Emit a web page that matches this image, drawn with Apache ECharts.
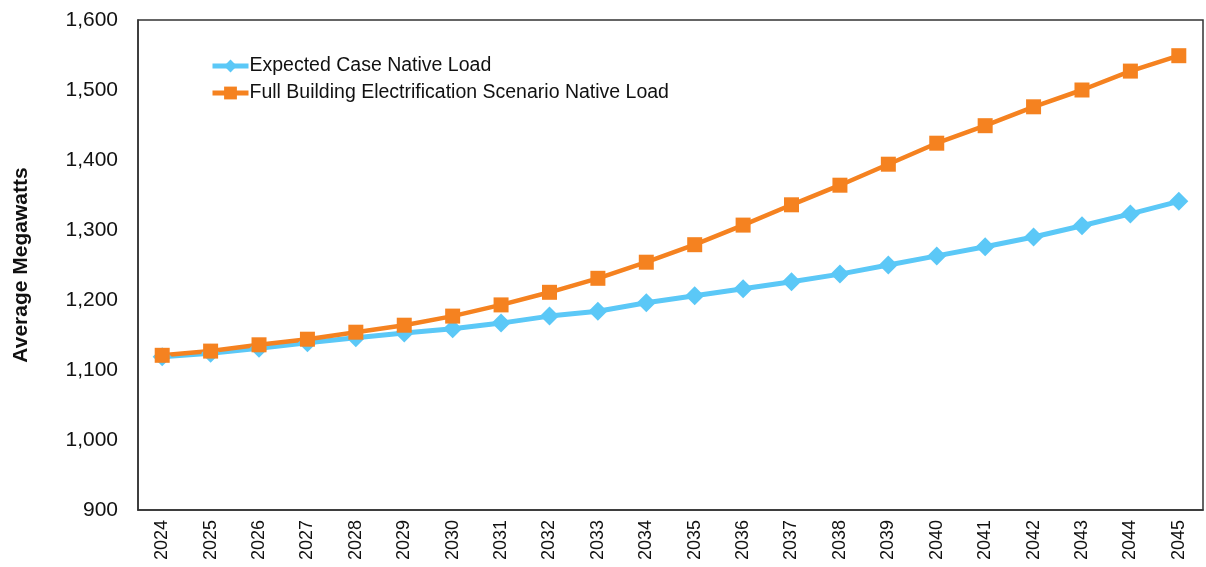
<!DOCTYPE html>
<html><head><meta charset="utf-8">
<script src="https://cdn.jsdelivr.net/npm/echarts@6/dist/echarts.min.js"></script>
<style>html,body{margin:0;padding:0;background:#fff}#c{width:1206px;height:567px}</style>
</head><body><div id="c"></div>
<script>
const years = ['2024','2025','2026','2027','2028','2029','2030','2031','2032','2033','2034','2035','2036','2037','2038','2039','2040','2041','2042','2043','2044','2045'];
const expectedCase = [1119,1124,1131,1139,1146,1153,1159,1167,1177,1184,1196,1206,1216,1226,1237,1250,1263,1276,1290,1306,1323,1341];
const fullElectrification = [1121,1127,1136,1144,1154,1164,1177,1193,1211,1231,1254,1279,1307,1336,1364,1394,1424,1449,1476,1500,1527,1549];
const seriesNames = ['Expected Case Native Load','Full Building Electrification Scenario Native Load'];

const chart = echarts.init(document.getElementById('c'));
const font = 'Liberation Sans, Arial, sans-serif';
chart.setOption({
  animation: false,
  textStyle: {fontFamily: font},
  grid: {left: 138, right: 3, top: 20, bottom: 57, show: true, borderColor: '#333', borderWidth: 1.5},
  legend: {
    left: 205, top: 51, orient: 'vertical', itemGap: 7, itemWidth: 36, itemHeight: 16,
    lineStyle: {width: 5},
    textStyle: {fontSize: 19.5, color: '#111', fontFamily: font, padding: [0,0,0,-4]},
    data: [seriesNames[0], seriesNames[1]]
  },
  xAxis: {
    type: 'category', data: years, boundaryGap: true,
    axisLine: {show: true, lineStyle: {color: '#333', width: 1.5}},
    axisTick: {show: false},
    axisLabel: {rotate: 90, fontSize: 18, color: '#111', margin: 10, fontFamily: font}
  },
  yAxis: {
    type: 'value', min: 900, max: 1600, interval: 100,
    name: 'Average Megawatts', nameLocation: 'middle', nameGap: 106,
    nameTextStyle: {fontSize: 21, fontWeight: 'bold', color: '#111', fontFamily: font},
    axisLine: {show: true, lineStyle: {color: '#333', width: 1.5}},
    axisTick: {show: false},
    splitLine: {show: false},
    axisLabel: {fontSize: 21, color: '#111', margin: 20, fontFamily: font,
      formatter: v => v.toLocaleString('en-US')}
  },
  series: [
    {name: seriesNames[0], type: 'line', data: expectedCase, symbol: 'diamond', symbolSize: 19,
     color: '#5BC8F7', lineStyle: {width: 5, color: '#5BC8F7'}, itemStyle: {color: '#5BC8F7'}},
    {name: seriesNames[1], type: 'line', data: fullElectrification, symbol: 'rect', symbolSize: 15,
     color: '#F58220', lineStyle: {width: 4.5, color: '#F58220'}, itemStyle: {color: '#F58220'}}
  ]
});
</script></body></html>
